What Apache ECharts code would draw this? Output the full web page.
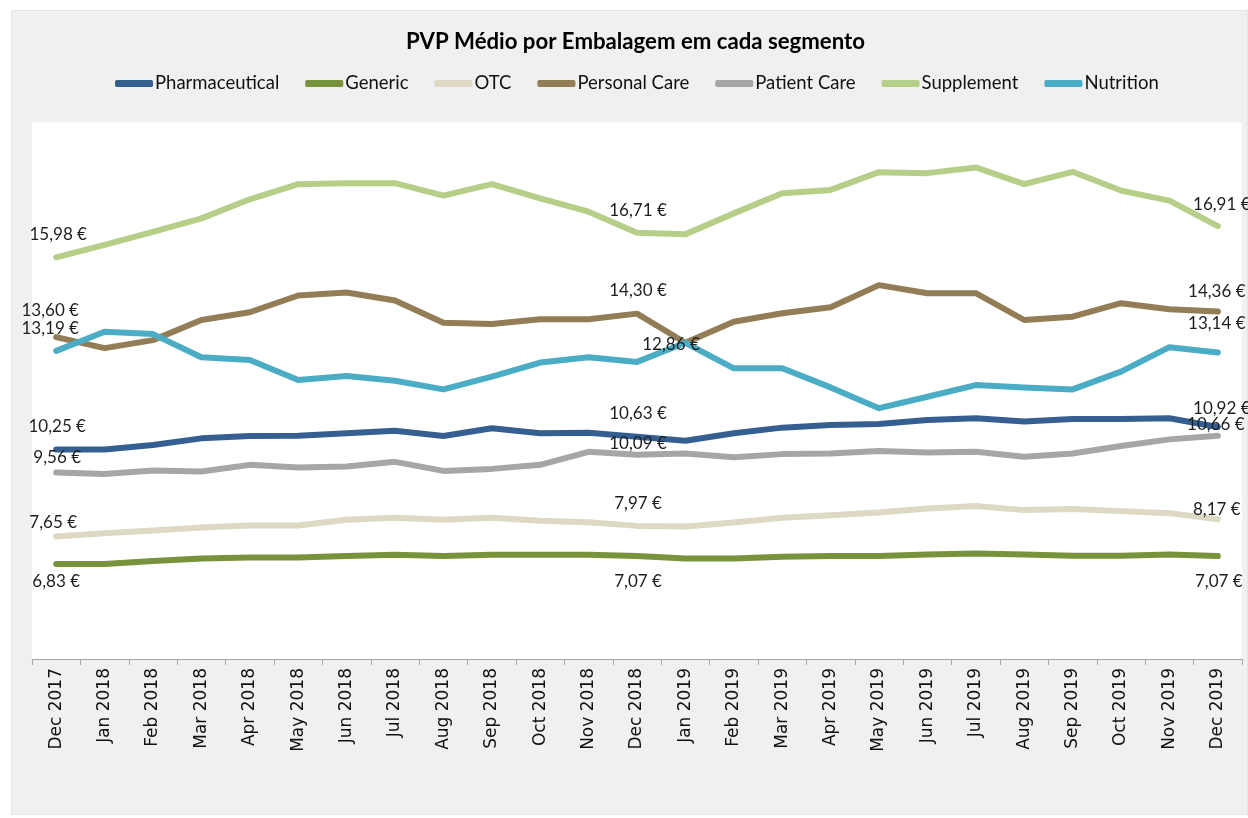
<!DOCTYPE html>
<html>
<head>
<meta charset="utf-8">
<script src="https://cdn.jsdelivr.net/npm/echarts@6/dist/echarts.min.js"></script>
<style>
  html, body { margin: 0; padding: 0; background: #ffffff; width: 1248px; height: 818px; overflow: hidden; }
  #panel { position: absolute; left: 11px; top: 10px; right: 0; bottom: 3px; background: #f0f0f0; border: 1px solid #e6e6df; box-sizing: border-box; }
  #chart { position: absolute; left: 0; top: 0; width: 1248px; height: 818px; }
</style>
</head>
<body>
<div id="panel"></div>
<div id="chart"></div>
<script>
const categories = ['Dec 2017','Jan 2018','Feb 2018','Mar 2018','Apr 2018','May 2018','Jun 2018','Jul 2018','Aug 2018','Sep 2018','Oct 2018','Nov 2018','Dec 2018','Jan 2019','Feb 2019','Mar 2019','Apr 2019','May 2019','Jun 2019','Jul 2019','Aug 2019','Sep 2019','Oct 2019','Nov 2019','Dec 2019'];

const pharmaceutical = [10.25,10.25,10.38,10.58,10.65,10.66,10.73,10.81,10.65,10.88,10.73,10.75,10.63,10.51,10.73,10.90,10.98,11.01,11.13,11.18,11.08,11.16,11.16,11.18,10.92];
const generic        = [6.83,6.83,6.92,7.00,7.03,7.03,7.07,7.11,7.07,7.11,7.11,7.11,7.07,7.00,7.00,7.05,7.07,7.07,7.12,7.15,7.12,7.08,7.08,7.12,7.07];
const otc            = [7.65,7.75,7.83,7.92,7.98,7.98,8.15,8.21,8.15,8.21,8.12,8.08,7.97,7.95,8.07,8.21,8.29,8.37,8.49,8.56,8.44,8.47,8.41,8.35,8.17];
const personalCare   = [13.60,13.27,13.51,14.11,14.34,14.84,14.93,14.69,14.03,13.99,14.13,14.13,14.30,13.43,14.06,14.31,14.49,15.15,14.91,14.91,14.11,14.21,14.61,14.43,14.36];
const patientCare    = [9.56,9.52,9.62,9.59,9.79,9.71,9.74,9.88,9.61,9.67,9.79,10.18,10.09,10.13,10.02,10.11,10.13,10.20,10.16,10.18,10.03,10.13,10.35,10.55,10.66];
const supplement     = [15.98,16.35,16.74,17.14,17.71,18.16,18.19,18.19,17.82,18.16,17.74,17.34,16.71,16.67,17.29,17.89,17.99,18.52,18.49,18.66,18.16,18.53,17.97,17.67,16.91];
const nutrition      = [13.19,13.76,13.69,13.00,12.92,12.32,12.44,12.30,12.04,12.42,12.84,13.00,12.86,13.43,12.67,12.67,12.10,11.48,11.82,12.17,12.10,12.04,12.57,13.30,13.14];

const seriesNames  = ['Pharmaceutical','Generic','OTC','Personal Care','Patient Care','Supplement','Nutrition'];
const seriesValues = [pharmaceutical, generic, otc, personalCare, patientCare, supplement, nutrition];
const seriesColors = ['#365F91','#77933C','#DDD9C4','#927D56','#A6A6A6','#B5CF88','#4BACC6'];

// label placement (pixel offsets from the point), by series and category index
const labelOffsets = [
  {0: [1, -23], 12: [1, -23], 24: [4, -18]},
  {0: [0, 17],  12: [1, 25],  24: [1, 25]},
  {0: [-3, -14],12: [1, -22], 24: [-1, -10]},
  {0: [-6, -27],12: [1, -23], 24: [-1, -20]},
  {0: [1, -15], 12: [1, -11], 24: [-2, -11]},
  {0: [2, -23], 12: [1, -22], 24: [4, -22]},
  {0: [-6, -22],12: [34, -17],24: [-1, -29]}
];

const fmt = v => v.toFixed(2).replace('.', ',') + ' €';

const series = seriesNames.map((name, s) => ({
  type: 'line',
  name: name,
  data: seriesValues[s].map((v, i) => labelOffsets[s][i]
      ? { value: v, label: { show: true, offset: labelOffsets[s][i] } }
      : v),
  symbol: 'circle',
  symbolSize: 2,
  showSymbol: true,
  showAllSymbol: true,
  lineStyle: { width: 6, color: seriesColors[s], cap: 'round', join: 'round' },
  itemStyle: { color: seriesColors[s] },
  label: {
    show: false,
    position: 'inside',
    align: 'center',
    verticalAlign: 'middle',
    formatter: p => fmt(p.value),
    fontFamily: 'Lato',
    fontSize: 17,
    color: '#1e1e1e'
  },
  emphasis: { disabled: true },
  z: 2 + s
}));

const chart = echarts.init(document.getElementById('chart'), null, { renderer: 'canvas' });
chart.setOption({
  animation: false,
  backgroundColor: 'transparent',
  title: {
    text: 'PVP Médio por Embalagem em cada segmento',
    left: 401,
    top: 26,
    textStyle: { fontFamily: 'Lato', fontWeight: 'bold', fontSize: 22.2, color: '#000' }
  },
  legend: {
    top: 69,
    left: 110,
    icon: 'roundRect',
    itemWidth: 38,
    itemHeight: 7,
    itemGap: 26,
    textStyle: { fontFamily: 'Lato', fontSize: 18.5, color: '#111', padding: [0, 0, 0, -3] },
    data: seriesNames
  },
  grid: {
    left: 32, right: 6, top: 122.5, bottom: 159,
    show: true, backgroundColor: '#ffffff', borderWidth: 0
  },
  xAxis: {
    type: 'category',
    data: categories,
    boundaryGap: true,
    axisLine: { lineStyle: { color: '#a6a6a6', width: 1 } },
    axisTick: { show: true, length: 6, lineStyle: { color: '#a6a6a6' } },
    axisLabel: { rotate: 90, margin: 9, fontFamily: 'DejaVu Sans', fontSize: 17, color: '#111', interval: 0 },
    splitLine: { show: false }
  },
  yAxis: {
    type: 'value',
    min: 4, max: 20, interval: 2,
    show: false,
    splitLine: { show: false }
  },
  series: series
});
</script>
</body>
</html>
